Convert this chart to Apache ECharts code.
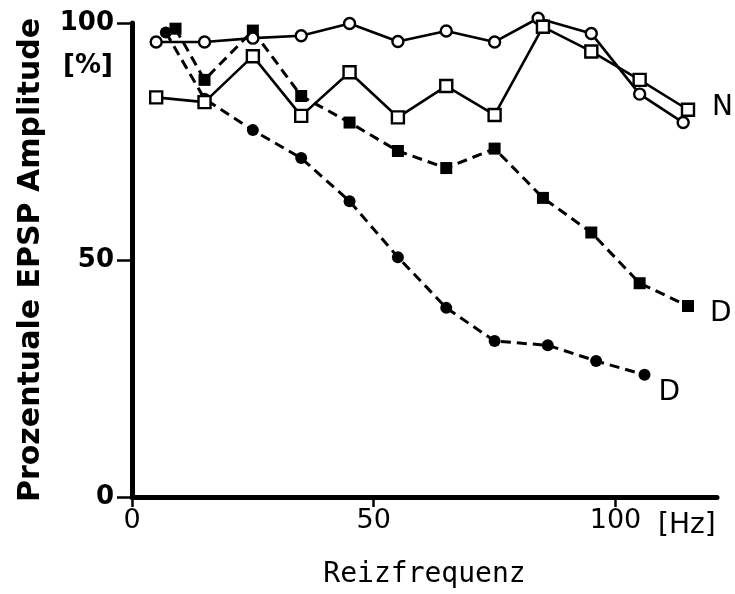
<!DOCTYPE html>
<html>
<head>
<meta charset="utf-8">
<script src="https://cdn.jsdelivr.net/npm/echarts@6/dist/echarts.min.js"></script>
<style>html,body{margin:0;padding:0;background:#fff;}#c{width:735px;height:594px;}</style>
</head>
<body>
<div id="c"></div>
<script>
// Data
const xTicks = [0, 50, 100];
const yTicks = [0, 50, 100];

const nCircleX = [5, 15, 25, 35, 45, 55, 65, 75, 84, 95, 105, 114];
const nCircleY = [96, 96, 96.8, 97.3, 99.9, 96.1, 98.3, 96, 101, 97.8, 85, 79];

const nSquareX = [5, 15, 25, 35, 45, 55, 65, 75, 85, 95, 105, 115];
const nSquareY = [84.3, 83.3, 93, 80.4, 89.6, 80.1, 86.7, 80.6, 99.2, 94, 88, 81.7];

const dSquareX = [9, 15, 25, 35, 45, 55, 65, 75, 85, 95, 105, 115];
const dSquareY = [98.8, 88, 98.4, 84.6, 79, 73, 69.4, 73.5, 63.1, 55.8, 45.1, 40.3];

const dCircleX = [7, 15, 25, 35, 45, 55, 65, 75, 86, 96, 106];
const dCircleY = [98, 84, 77.4, 71.5, 62.4, 50.6, 39.9, 32.9, 32, 28.7, 25.8];

const pairs = (xs, ys) => xs.map((x, i) => [x, ys[i]]);
const FONT = 'DejaVu Sans';

const chart = echarts.init(document.getElementById('c'), null, {renderer: 'canvas'});

function lineSeries(name, xs, ys, symbol, size, open, dashed, endText, endOffset) {
  const s = {
    name: name,
    type: 'line',
    data: pairs(xs, ys),
    symbol: symbol,
    symbolSize: size,
    showAllSymbol: true,
    clip: false,
    lineStyle: {color: '#000', width: dashed ? 3 : 2.6, type: dashed ? [10, 6] : 'solid'},
    itemStyle: {color: open ? '#fff' : '#000', borderColor: '#000', borderWidth: open ? 2.4 : 0},
    emphasis: {disabled: true},
    z: dashed ? 2 : 3
  };
  if (endText) {
    s.endLabel = {
      show: true,
      formatter: endText,
      color: '#000',
      fontFamily: FONT,
      fontSize: 28,
      distance: 0,
      offset: endOffset
    };
  }
  return s;
}

chart.setOption({
  animation: false,
  backgroundColor: '#fff',
  grid: {left: 132, right: 18, top: 23, bottom: 91, containLabel: false},
  title: {
    text: '[Hz]',
    left: 653,
    top: 507,
    textStyle: {fontFamily: FONT, fontSize: 28, fontWeight: 'normal', color: '#000'}
  },
  xAxis: {
    type: 'value',
    min: 0,
    max: 121,
    interval: 50,
    name: 'Reizfrequenz',
    nameLocation: 'middle',
    nameGap: 64,
    nameTextStyle: {fontFamily: 'DejaVu Sans Mono', fontSize: 28, color: '#000'},
    axisLine: {show: true, onZero: false, lineStyle: {color: '#000', width: 5}},
    axisTick: {show: true, customValues: xTicks, length: 10, lineStyle: {color: '#000', width: 2.5}},
    axisLabel: {customValues: xTicks, margin: 10, fontFamily: FONT, fontSize: 27, color: '#000'},
    splitLine: {show: false}
  },
  yAxis: {
    type: 'value',
    min: 0,
    max: 100,
    interval: 50,
    name: 'Prozentuale EPSP Amplitude',
    nameLocation: 'middle',
    nameGap: 86,
    nameTextStyle: {fontFamily: FONT, fontSize: 30, fontWeight: 'bold', color: '#000'},
    axisLine: {show: true, lineStyle: {color: '#000', width: 5}},
    axisTick: {show: true, length: 15, lineStyle: {color: '#000', width: 2.5}},
    axisLabel: {margin: 18, fontFamily: FONT, fontSize: 26, fontWeight: 'bold', color: '#000'},
    splitLine: {show: false}
  },
  graphic: [{
    type: 'text',
    left: 63,
    top: 53,
    style: {text: '[%]', font: 'bold 26px "DejaVu Sans"', fill: '#000'}
  }],
  series: [
    lineSeries('dCircle', dCircleX, dCircleY, 'circle', 12, false, true, 'D', [14, 18]),
    lineSeries('dSquare', dSquareX, dSquareY, 'rect', 12, false, true, 'D', [22, 8]),
    lineSeries('nCircle', nCircleX, nCircleY, 'circle', 11, true, false, null, null),
    lineSeries('nSquare', nSquareX, nSquareY, 'rect', 12, true, false, 'N', [24, -2])
  ]
});
</script>
</body>
</html>
